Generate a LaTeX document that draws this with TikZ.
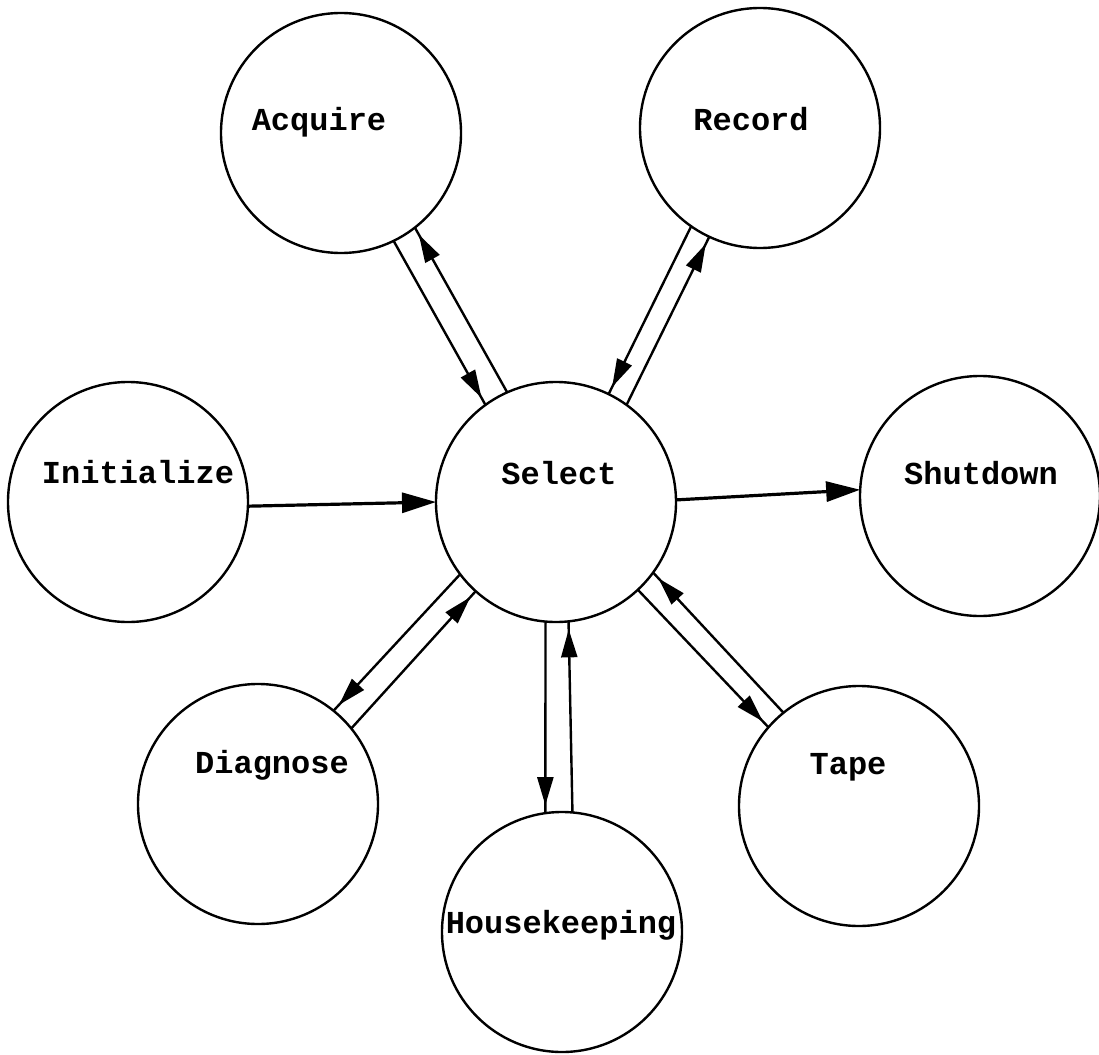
\documentclass[tikz,border=0pt]{standalone}
\usepackage{fontspec}
\newfontfamily\courfont{Liberation Mono}
\usetikzlibrary{arrows.meta,decorations.markings}
\tikzset{
  bub/.style={circle, draw, line width=2.4pt, minimum size=240pt, inner sep=0pt, outer sep=0pt},
  lbl/.style={font=\courfont\bfseries\fontsize{32}{38}\selectfont, inner sep=0pt, anchor=base},
  con/.style={line width=2.4pt},
  tipend/.style={con, postaction={decorate}, decoration={markings, mark=at position -8pt with {\arrow{Triangle[length=28pt,width=16pt]}}}},
  htip/.style={line width=3.2pt, -{Triangle[length=34pt,width=20pt]}}
}
\begin{document}
\begin{tikzpicture}[x=1pt,y=-1pt]
\useasboundingbox (0,0) rectangle (1099,1054);
\fill[white] (0,0) rectangle (1099,1054);
\node[bub] (acq) at (341,133) {};
\node[bub] (rec) at (760,128) {};
\node[bub] (ini) at (128,502) {};
\node[bub] (sel) at (556,502) {};
\node[bub] (shu) at (980,496) {};
\node[bub] (dia) at (258,804) {};
\node[bub] (hou) at (562,932) {};
\node[bub] (tap) at (859,806) {};
\node[lbl] (acqT) at (319,131) {Acquire};
\node[lbl] (recT) at (751,131) {Record};
\node[lbl] (iniT) at (138,483) {Initialize};
\node[lbl] (selT) at (559,484) {Select};
\node[lbl] (shuT) at (981,484) {Shutdown};
\node[lbl] (diaT) at (272,773) {Diagnose};
\node[lbl] (tapT) at (848,774) {Tape};
\node[lbl] (houT) at (561,933) {Housekeeping};
\draw[tipend] (acq.-64.3) -- (sel.126);
\draw[tipend] (sel.114.7) -- (acq.-52.5);
\draw[tipend] (rec.-125.8) -- (sel.64.5);
\draw[tipend] (sel.54.4) -- (rec.-115.1);
\draw[htip] (ini.-2.8) -- (sel.180);
\draw[htip] (sel.1.4) -- (shu.177.6);
\draw[tipend] (sel.-143.3) -- (dia.51.3);
\draw[tipend] (dia.39.1) -- (sel.-132);
\draw[tipend] (sel.-95.8) -- (hou.98);
\draw[tipend] (hou.85.3) -- (sel.-84.6);
\draw[tipend] (tap.129.7) -- (sel.-36.4);
\draw[tipend] (sel.-47.7) -- (tap.139.9);
\end{tikzpicture}
\end{document}
